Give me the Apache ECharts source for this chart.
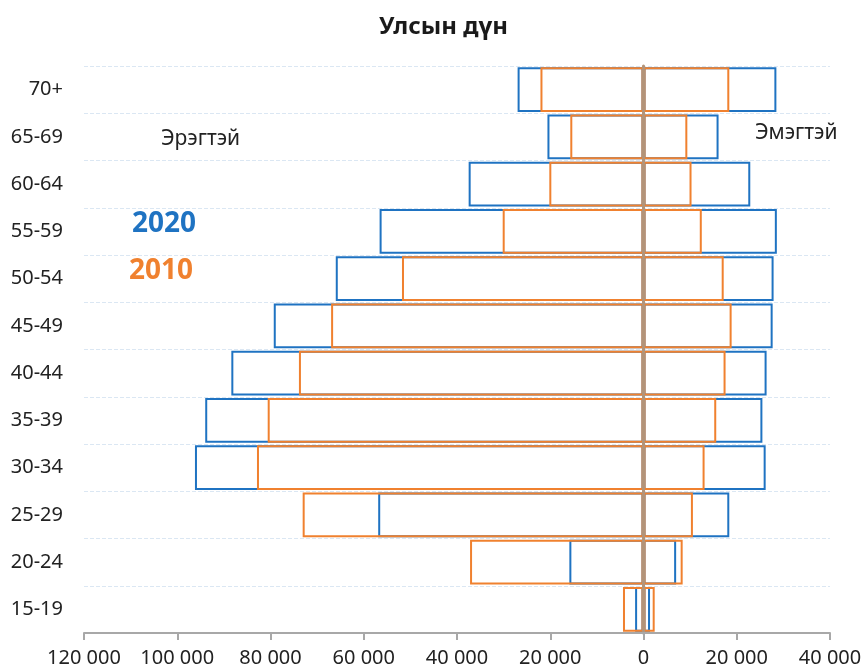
<!DOCTYPE html>
<html>
<head>
<meta charset="utf-8">
<script src="https://cdn.jsdelivr.net/npm/echarts@6/dist/echarts.min.js"></script>
<style>
  html, body { margin: 0; padding: 0; background: #fff; }
  #chart { width: 865px; height: 668px; }
</style>
</head>
<body>
<div id="chart"></div>
<script>
const ageGroups = ['15-19', '20-24', '25-29', '30-34', '35-39', '40-44', '45-49', '50-54', '55-59', '60-64', '65-69', '70+'];

// Эрэгтэй (negative side), Эмэгтэй (positive side)
const male2020 = [-1800, -15900, -56900, -96200, -94000, -88400, -79300, -66000, -56600, -37500, -20600, -27000];
const female2020 = [1400, 7000, 18400, 26200, 25500, 26400, 27700, 27900, 28600, 22900, 16100, 28500];
const male2010 = [-4400, -37200, -73100, -82900, -80600, -73900, -67000, -51800, -30200, -20200, -15700, -22100];
const female2010 = [2400, 8400, 10600, 13100, 15600, 17600, 18900, 17200, 12500, 10300, 9400, 18400];

const blue = '#1f73c2';
const orange = '#f0812f';

const chart = echarts.init(document.getElementById('chart'));

const barSeries = (name, data, color, z) => ({
  name: name,
  type: 'bar',
  data: data,
  barGap: '-100%',
  barCategoryGap: '5%',
  z: z,
  itemStyle: {
    color: 'rgba(255,255,255,0)',
    borderColor: color,
    borderWidth: 2
  },
  emphasis: { disabled: true }
});

const fmt = v => Math.abs(v).toString().replace(/\B(?=(\d{3})+(?!\d))/g, ' ');

chart.setOption({
  animation: false,
  textStyle: { fontFamily: 'Noto Sans' },
  title: {
    text: 'Улсын дүн',
    left: 374,
    top: 10,
    textStyle: { fontSize: 24, fontWeight: 'bold', color: '#1a1a1a' }
  },
  grid: { left: 84, right: 35, top: 66, bottom: 35 },
  xAxis: {
    type: 'value',
    min: -120000,
    max: 40000,
    interval: 20000,
    z: 6,
    axisLine: { show: true, onZero: false, lineStyle: { color: '#a8a8a8', width: 2 } },
    axisTick: { show: true, length: 7, lineStyle: { color: '#a8a8a8', width: 2 } },
    splitLine: { show: false },
    axisLabel: { fontSize: 20, color: '#222', margin: 15, formatter: fmt }
  },
  yAxis: {
    type: 'category',
    data: ageGroups,
    z: 5,
    axisLine: { show: true, onZero: true, lineStyle: { color: '#b39479', width: 3 } },
    axisTick: { show: false },
    axisLabel: { fontSize: 20, color: '#222', margin: 21 },
    splitLine: { show: true, lineStyle: { color: '#dbe7f3', type: 'dashed', width: 1 } }
  },
  series: [
    barSeries('2020 Эрэгтэй', male2020, blue, 2),
    barSeries('2020 Эмэгтэй', female2020, blue, 2),
    barSeries('2010 Эрэгтэй', male2010, orange, 3),
    barSeries('2010 Эмэгтэй', female2010, orange, 3)
  ],
  graphic: [
    { type: 'text', left: 161, top: 129, style: { text: 'Эрэгтэй', font: '21px "Noto Sans"', fill: '#222' } },
    { type: 'text', left: 755, top: 123, style: { text: 'Эмэгтэй', font: '21px "Noto Sans"', fill: '#222' } },
    { type: 'text', left: 132, top: 210, style: { text: '2020', font: 'bold 28px "Noto Sans"', fill: blue } },
    { type: 'text', left: 129, top: 257, style: { text: '2010', font: 'bold 28px "Noto Sans"', fill: orange } }
  ]
});
</script>
</body>
</html>
